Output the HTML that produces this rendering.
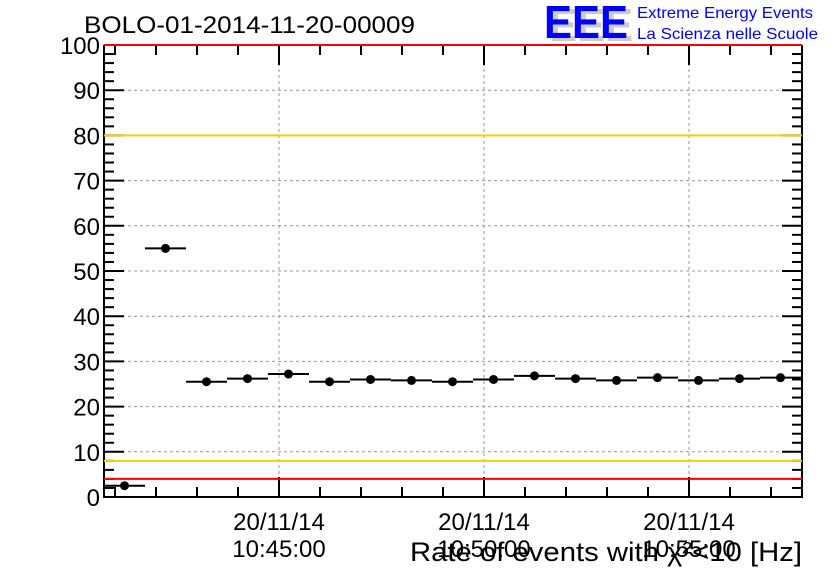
<!DOCTYPE html>
<html><head><meta charset="utf-8"><style>
html,body{margin:0;padding:0;background:#fff;}
svg{display:block;font-family:"Liberation Sans",sans-serif;}
</style></head><body>
<svg id="chart" width="836" height="572">
<rect width="836" height="572" fill="#fff"/>
<g id="grid"></g>
<g id="axes"></g>
<g id="lines"></g>
<g id="marks"></g>
<text x="84" y="33" font-size="24" textLength="331" lengthAdjust="spacingAndGlyphs">BOLO-01-2014-11-20-00009</text>
<g>
<text x="549" y="41" font-size="46" font-weight="bold" fill="#ccc" textLength="84" lengthAdjust="spacingAndGlyphs">EEE</text>
<text x="544" y="38" font-size="46" font-weight="bold" fill="#0000ff" textLength="84" lengthAdjust="spacingAndGlyphs">EEE</text>
<text x="637" y="18" font-size="16" fill="#0000ff" textLength="176" lengthAdjust="spacingAndGlyphs">Extreme Energy Events</text>
<text x="637" y="39" font-size="16" fill="#0000ff" textLength="181" lengthAdjust="spacingAndGlyphs">La Scienza nelle Scuole</text>
</g>
<text x="410" y="561" font-size="27" textLength="392" lengthAdjust="spacingAndGlyphs">Rate of events with χ²&lt;10 [Hz]</text>
</svg>
<script>
const values = [2.5, 55, 25.5, 26.2, 27.2, 25.5, 26, 25.8, 25.5, 26, 26.8, 26.2, 25.8, 26.4, 25.8, 26.2, 26.4];
const yTicks = [0,10,20,30,40,50,60,70,80,90,100];
const timeLabels = ["10:45:00","10:50:00","10:55:00"];
const timeMinutes = [5,10,15];
const hLines = [{v:100,c:"#ff0000"},{v:80,c:"#ffcc00"},{v:8,c:"#ffcc00"},{v:4,c:"#ff0000"}];
const NS="http://www.w3.org/2000/svg";
const X0=104,X1=802,Y0=497,Y1=45,BW=41;
function xs(m){return X0+(m+0.5)*BW;}
function ys(v){return Y0-(v/100)*(Y0-Y1);}
function el(p,t,a){const e=document.createElementNS(NS,t);for(const k in a)e.setAttribute(k,a[k]);p.appendChild(e);return e;}
const grid=document.getElementById('grid'),axes=document.getElementById('axes'),marks=document.getElementById('marks'),lines=document.getElementById('lines');
const mOff=(279-X0)/BW-0.5;
yTicks.forEach(v=>{ if(v>0&&v<100){const g=el(grid,'line',{x1:X0,x2:X1,y1:ys(v),y2:ys(v),stroke:'#999','stroke-dasharray':'3,3','stroke-width':1});

}
const t=el(axes,'text',{x:X0-4,y:ys(v)+9,'font-size':24,'text-anchor':'end'});t.textContent=v;

});
timeMinutes.forEach((m,i)=>{const x=xs(mOff+m-5);
const g=el(grid,'line',{x1:x,x2:x,y1:Y1,y2:Y0,stroke:'#999','stroke-dasharray':'3,3','stroke-width':1});


const t1=el(axes,'text',{x:x,y:530,'font-size':24,'text-anchor':'middle'});t1.textContent='20/11/14';


const t2=el(axes,'text',{x:x,y:557,'font-size':24,'text-anchor':'middle'});t2.textContent=timeLabels[i];

});
const f=el(axes,'path',{d:`M${X0},${Y1}V${Y0}H${X1}V${Y1}`,fill:'none',stroke:'#000','stroke-width':2});


for(let v=0;v<=100;v+=2){const L=(v%10===0)?20:10;
el(axes,'line',{x1:X0,x2:X0+L,y1:ys(v),y2:ys(v),stroke:'#000','stroke-width':2});
el(axes,'line',{x1:X1,x2:X1-L,y1:ys(v),y2:ys(v),stroke:'#000','stroke-width':2});}
for(let k=-10;k<=20;k++){const x=279+k*BW;if(x<X0+2||x>X1-2)continue;const L=(k%5===0)?20:10;
el(axes,'line',{x1:x,x2:x,y1:Y0,y2:Y0-L,stroke:'#000','stroke-width':2});
el(axes,'line',{x1:x,x2:x,y1:Y1,y2:Y1+L,stroke:'#000','stroke-width':2});}
hLines.forEach(h=>{const l=el(lines,'line',{x1:X0,x2:X1,y1:ys(h.v),y2:ys(h.v),stroke:h.c,'stroke-width':2});

});
values.forEach((v,i)=>{const cx=X0+(i+0.5)*BW;const y=ys(v);
const l=el(marks,'line',{x1:Math.max(X0,cx-BW/2),x2:Math.min(X1,cx+BW/2),y1:y,y2:y,stroke:'#000','stroke-width':2});


const c=el(marks,'circle',{cx:cx,cy:y,r:4.5,fill:'#000'});

});
</script>
</body></html>
